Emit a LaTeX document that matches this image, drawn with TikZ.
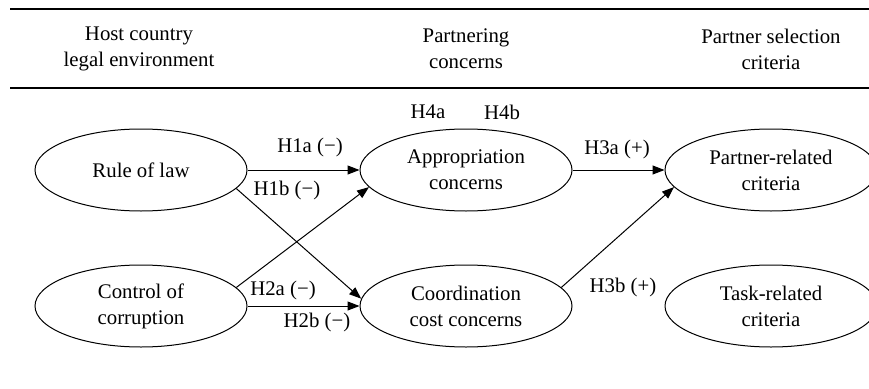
\documentclass[tikz,border=0pt]{standalone}
\usepackage{fontspec}
\setmainfont{Liberation Serif}
\usetikzlibrary{shapes.geometric,arrows.meta}
\begin{document}
\begin{tikzpicture}[x=1pt,y=-1pt,
  every node/.style={font=\fontsize{20.8}{26}\selectfont},
  oval/.style={ellipse,draw,line width=1pt,minimum width=212pt,minimum height=82pt,inner sep=0pt,align=center},
  hdr/.style={align=center},
  lbl/.style={inner sep=0pt},
  conn/.style={line width=1pt,-{Triangle[length=12pt,width=9pt]}},
  rule/.style={line width=1.3pt}]
\useasboundingbox (0,0) rectangle (869,388);
\clip (0,0) rectangle (869,388);
\coordinate (l1a) at (10,9); \coordinate (l1b) at (869,9);
\coordinate (l2a) at (10,88); \coordinate (l2b) at (869,88);
\draw[rule] (l1a) -- (l1b);
\draw[rule] (l2a) -- (l2b);
\node[hdr] (h1) at (139,49) {Host country\\legal environment};
\node[hdr] (h2) at (466,49) {Partnering\\concerns};
\node[hdr] (h3) at (771,49) {Partner selection\\criteria};
\node[oval] (rule) at (141,170) {Rule of law};
\node[oval] (ctrl) at (141,306) {Control of\\corruption};
\node[oval] (appr) at (466,170) {Appropriation\\concerns};
\node[oval] (coord) at (466,306) {Coordination\\cost concerns};
\node[oval] (part) at (771,170) {Partner-related\\criteria};
\node[oval] (task) at (771,306) {Task-related\\criteria};
\draw[conn] (rule.east) -- (appr.west);
\draw[conn] (rule.-11) -- (coord.176);
\draw[conn] (ctrl.11) -- (appr.190);
\draw[conn] (ctrl.east) -- (coord.west);
\draw[conn] (appr.east) -- (part.west);
\draw[conn] (coord.11) -- (part.190);
\node[lbl] (h1a) at (310,147) {H1a (−)};
\node[lbl] (h1b) at (287,190) {H1b (−)};
\node[lbl] (h2a) at (283,290) {H2a (−)};
\node[lbl] (h2b) at (317,322) {H2b (−)};
\node[lbl] (h3a) at (617,149) {H3a (+)};
\node[lbl] (h3b) at (623,287) {H3b (+)};
\node[lbl] (h4a) at (428,112) {H4a};
\node[lbl] (h4b) at (502,112) {H4b};
\end{tikzpicture}
\end{document}
